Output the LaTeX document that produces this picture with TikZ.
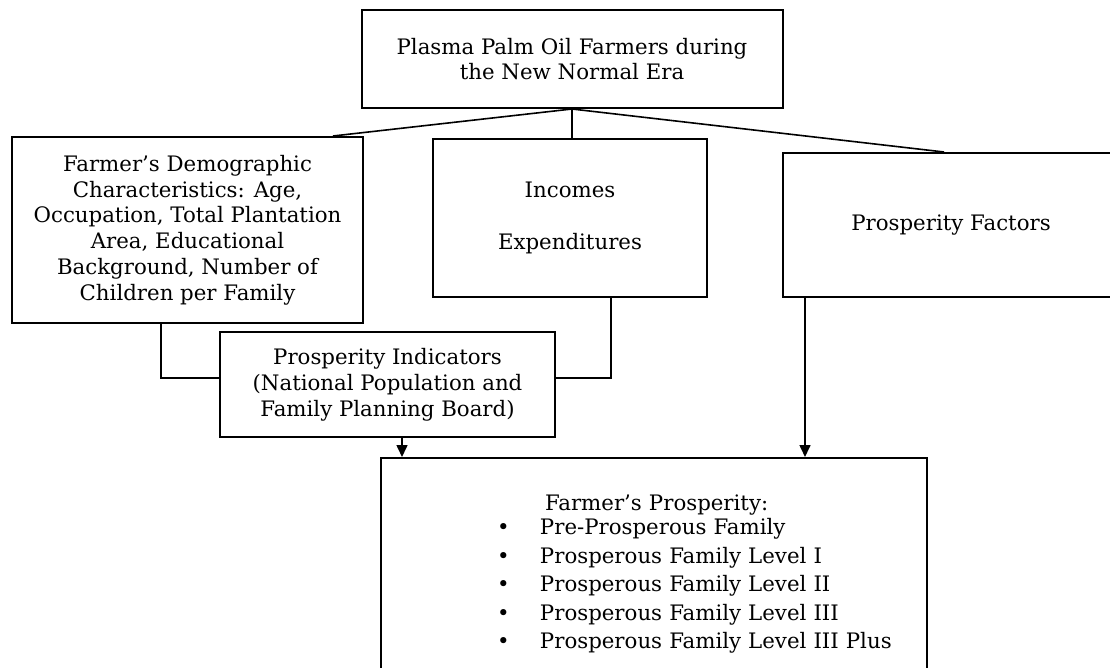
\documentclass[tikz,border=0pt]{standalone}
\usepackage{fontspec}
\setmainfont{DejaVu Serif}
\usetikzlibrary{arrows.meta}

\tikzset{
	box/.style={draw,rectangle,line width=2pt,inner sep=0pt,align=center,
		font=\fontsize{21.3}{25.8}\selectfont},
	link/.style={line width=1.6pt},
	arr/.style={line width=1.6pt,-{Triangle[length=12pt,width=11pt]}},
}

\begin{document}
\begin{tikzpicture}[x=1pt,y=-1pt]
	\useasboundingbox (0,0) rectangle (1110,668);
	\clip (0,0) rectangle (1110,668);

	% nodes
	\node[box,minimum width=421pt,minimum height=98pt] (era) at (572,59) {Plasma Palm Oil Farmers during\\the New Normal Era}; %
	\node[box,minimum width=351pt,minimum height=186pt] (demo) at (187.5,230) {Farmer’s Demographic\\Characteristics: Age,\\Occupation, Total Plantation\\Area, Educational\\Background, Number of\\Children per Family}; %
	\node[box,minimum width=274pt,minimum height=158pt] (money) at (570,218) {Incomes\\[25.8pt]Expenditures}; %
	\node[box,minimum width=336pt,minimum height=144pt] (factors) at (951,225) {Prosperity Factors}; %
	\node[box,minimum width=335pt,minimum height=105pt] (indic) at (387.5,384.5) {Prosperity Indicators\\(National Population and\\Family Planning Board)}; %
	\node[box,text width=546pt,minimum height=232pt,align=left] (welfare) at (654,574) {%
		\hspace*{164pt}Farmer’s Prosperity:\\[-1pt]
		\hspace*{116pt}\makebox[43pt][l]{\textbullet}Pre-Prosperous Family\\[2.7pt]
		\hspace*{116pt}\makebox[43pt][l]{\textbullet}Prosperous Family Level I\\[2.7pt]
		\hspace*{116pt}\makebox[43pt][l]{\textbullet}Prosperous Family Level II\\[2.7pt]
		\hspace*{116pt}\makebox[43pt][l]{\textbullet}Prosperous Family Level III\\[2.7pt]
		\hspace*{116pt}\makebox[43pt][l]{\textbullet}Prosperous Family Level III Plus}; %

	% connector ends
	\coordinate (demotop) at ([xshift=-31pt]demo.north east);
	\coordinate (factop) at ([xshift=162pt]factors.north west);
	\coordinate (demobot) at ([xshift=150pt]demo.south west);
	\coordinate (moneybot) at ([xshift=41pt]money.south);
	\coordinate (indicin) at ([yshift=6.5pt]indic.west);
	\coordinate (indicout) at ([yshift=6.5pt]indic.east);
	\coordinate (tgtleft) at ([xshift=22pt]welfare.north west);
	\coordinate (tgtright) at ([xshift=425pt]welfare.north west);

	% edges
	\draw[link] (era.south) -- (demotop);
	\draw[link] (era.south) -- (era.south |- money.north);
	\draw[link] (era.south) -- (factop);

	\draw[link] (demobot) |- (indicin);
	\draw[link] (moneybot) |- (indicout);

	\draw[arr] (indic.south -| tgtleft) -- (tgtleft);
	\draw[arr] (factors.south -| tgtright) -- (tgtright);
\end{tikzpicture}
\end{document}
